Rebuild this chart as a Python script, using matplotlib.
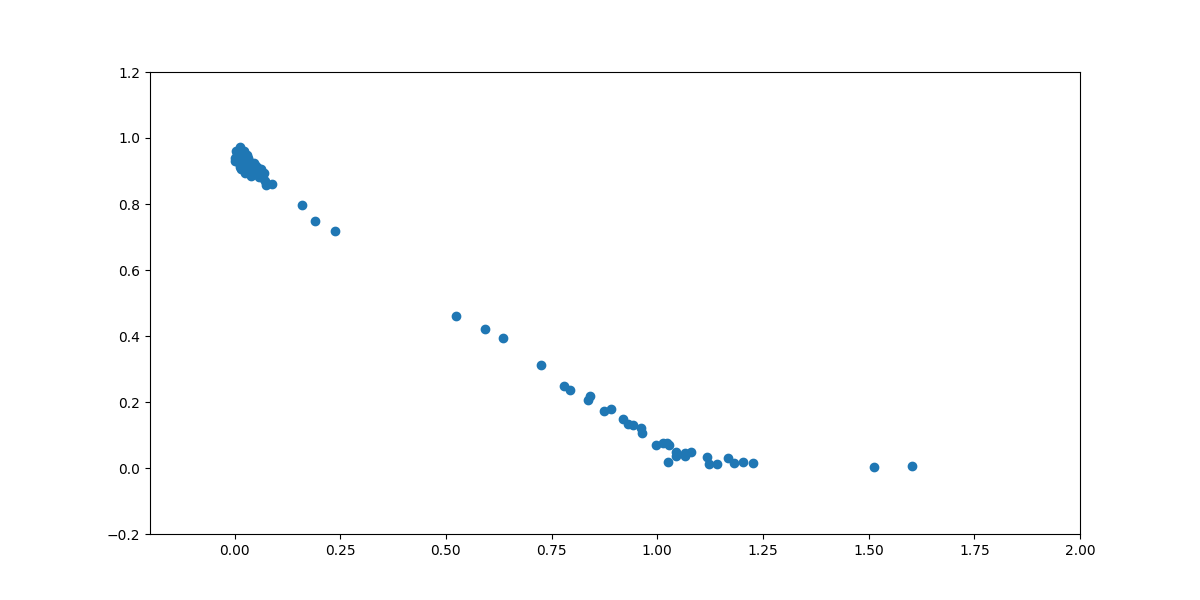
import matplotlib
matplotlib.use("Agg")
import matplotlib.pyplot as plt

# dense group near the top left
x_cluster = [0.012, 0.005, 0.0, 0.002, 0.010, 0.020, 0.025, 0.015, 0.030, 0.020,
             0.028, 0.025, 0.035, 0.040, 0.038, 0.045, 0.050, 0.055, 0.060, 0.048,
             0.065, 0.070, 0.068, 0.075, 0.072, 0.088, 0.030, 0.018, 0.008, 0.042,
             0.035, 0.004, 0.014, 0.045, 0.050, 0.055, 0.010, 0.020, 0.015, 0.058,
             0.022, 0.032, 0.062]
y_cluster = [0.972, 0.955, 0.940, 0.930, 0.925, 0.950, 0.940, 0.935, 0.930, 0.915,
             0.905, 0.895, 0.920, 0.910, 0.885, 0.900, 0.905, 0.895, 0.900, 0.890,
             0.890, 0.895, 0.880, 0.858, 0.870, 0.862, 0.950, 0.960, 0.945, 0.925,
             0.895, 0.960, 0.912, 0.925, 0.915, 0.910, 0.940, 0.930, 0.905, 0.882,
             0.962, 0.940, 0.905]

# the rest of the points
x_rest = [0.160, 0.190, 0.238, 0.524, 0.593, 0.635, 0.725, 0.780, 0.794, 0.837,
          0.841, 0.874, 0.891, 0.919, 0.931, 0.943, 0.962, 0.964, 0.997, 1.013,
          1.023, 1.027, 1.026, 1.044, 1.044, 1.066, 1.066, 1.080, 1.118, 1.122,
          1.141, 1.167, 1.181, 1.203, 1.227, 1.513, 1.603]
y_rest = [0.797, 0.748, 0.718, 0.461, 0.421, 0.394, 0.312, 0.248, 0.236, 0.206,
          0.218, 0.173, 0.179, 0.148, 0.133, 0.130, 0.121, 0.106, 0.070, 0.076,
          0.076, 0.070, 0.018, 0.048, 0.036, 0.045, 0.036, 0.048, 0.033, 0.012,
          0.012, 0.030, 0.015, 0.018, 0.015, 0.003, 0.006]

x = x_cluster + x_rest
y = y_cluster + y_rest

plt.figure(figsize=(12, 6))
plt.scatter(x, y)
plt.xlim(-0.2, 2.0)
plt.ylim(-0.2, 1.2)
plt.savefig("out.png")
